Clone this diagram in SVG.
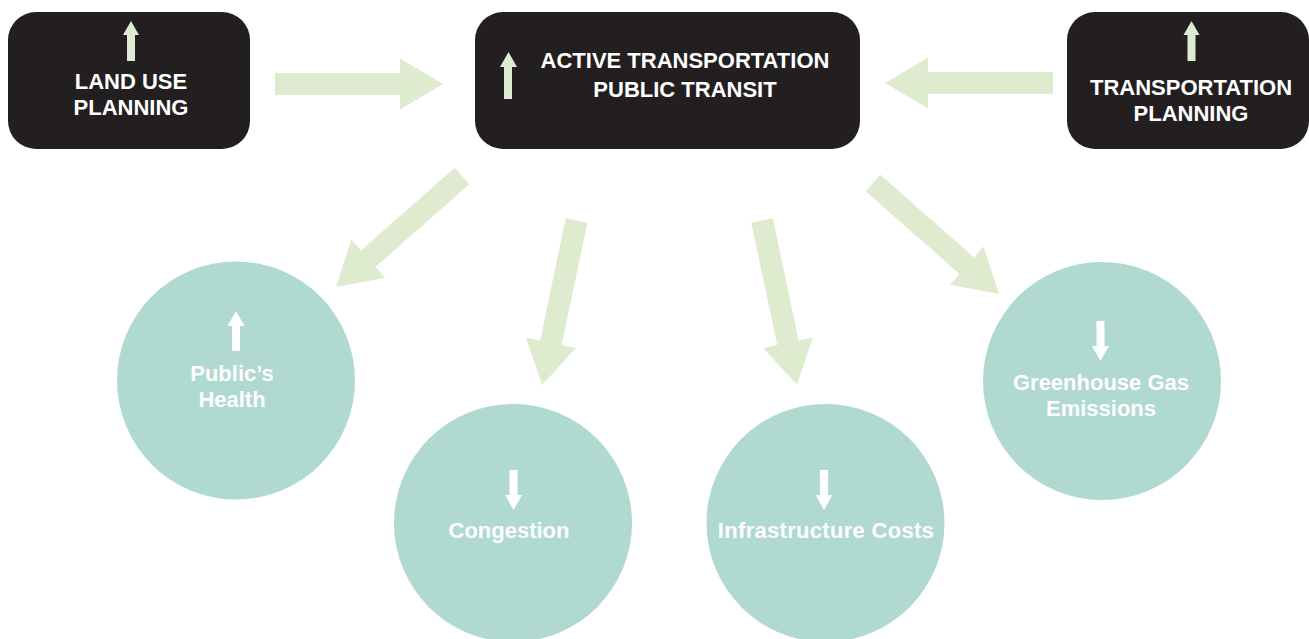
<svg xmlns="http://www.w3.org/2000/svg" width="1309" height="639" viewBox="0 0 1309 639">
  <defs>
    <style>
      .box { fill: #231f20; }
      .circ { fill: #b0d9d1; }
      .big { fill: #deebcf; }
      .tiny { fill: #dcebd2; }
      .tinyw { fill: #ffffff; }
      .t { font-family: "Liberation Sans", Arial, sans-serif; font-weight: bold; font-size: 22px; fill: #ffffff; text-anchor: middle; }
    </style>
    <polygon id="bigArrow" points="0,-11 125,-11 125,-25.5 168,0 125,25.5 125,11 0,11"/>
    <polygon id="upArrow" points="-4,40 -4,14 -8,14 0,0 8,14 4,14 4,-0 4,40"/>
    <polygon id="circUp" points="-4,40 -4,15 -8.5,15 0,0 8.5,15 4,15 4,40"/>
    <polygon id="circDown" points="-4,0 4,0 4,25 8.5,25 0,40 -8.5,25 -4,25"/>
  </defs>
  <rect width="1309" height="639" fill="#ffffff"/>

  <g id="connectors">
    <use href="#bigArrow" class="big" transform="translate(275,84)"/>
    <use href="#bigArrow" class="big" transform="translate(1053,83) rotate(180)"/>
    <use href="#bigArrow" class="big" transform="translate(462,176) rotate(138.6)"/>
    <use href="#bigArrow" class="big" transform="translate(576.5,220.5) rotate(101.8)"/>
    <use href="#bigArrow" class="big" transform="translate(762,220.5) rotate(78)"/>
    <use href="#bigArrow" class="big" transform="translate(873,183) rotate(41.4)"/>
  </g>

  <g id="land-use-planning">
    <rect class="box" x="8" y="12" width="242" height="137" rx="28"/>
    <polygon class="tiny" points="127,61 127,35 123,35 131,21 139,35 135,35 135,61"/>
    <text class="t" x="131" y="89">LAND USE</text>
    <text class="t" x="131" y="115">PLANNING</text>
  </g>

  <g id="active-transportation">
    <rect class="box" x="475" y="12" width="385" height="137" rx="28"/>
    <polygon class="tiny" points="504,99 504,67 500,67 508.5,52 517,67 512,67 512,99"/>
    <text class="t" x="685" y="68">ACTIVE TRANSPORTATION</text>
    <text class="t" x="685" y="97">PUBLIC TRANSIT</text>
  </g>

  <g id="transportation-planning">
    <rect class="box" x="1067" y="12" width="242" height="137" rx="28"/>
    <polygon class="tiny" points="1187.5,61 1187.5,35 1183.5,35 1191.5,21 1199.5,35 1195.5,35 1195.5,61"/>
    <text class="t" x="1191" y="95">TRANSPORTATION</text>
    <text class="t" x="1191" y="121">PLANNING</text>
  </g>

  <g id="publics-health">
    <circle class="circ" cx="236" cy="380.5" r="119"/>
    <use href="#circUp" class="tinyw" transform="translate(236,311)"/>
    <text class="t" x="232" y="381">Public’s</text>
    <text class="t" x="232" y="407">Health</text>
  </g>

  <g id="congestion">
    <circle class="circ" cx="513" cy="523" r="119"/>
    <use href="#circDown" class="tinyw" transform="translate(513.5,470)"/>
    <text class="t" x="509" y="538">Congestion</text>
  </g>

  <g id="infrastructure-costs">
    <circle class="circ" cx="825.5" cy="523" r="119"/>
    <use href="#circDown" class="tinyw" transform="translate(824,470)"/>
    <text class="t" x="826" y="538" style="letter-spacing:0.3px">Infrastructure Costs</text>
  </g>

  <g id="greenhouse-gas">
    <circle class="circ" cx="1102" cy="381" r="119"/>
    <use href="#circDown" class="tinyw" transform="translate(1100.5,321)"/>
    <text class="t" x="1101" y="390">Greenhouse Gas</text>
    <text class="t" x="1101" y="416">Emissions</text>
  </g>
</svg>
